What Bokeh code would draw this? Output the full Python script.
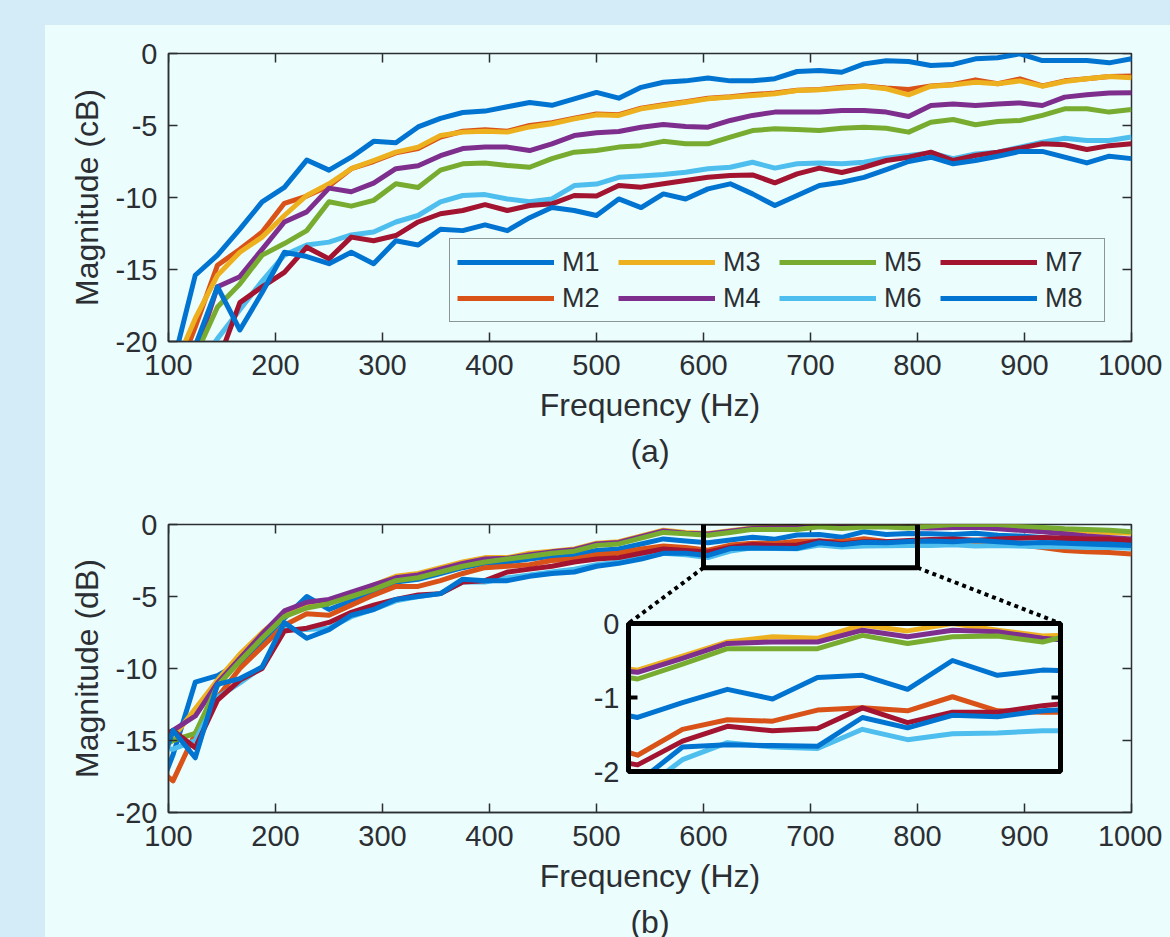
from bokeh.plotting import figure
from bokeh.layouts import column
from bokeh.models import Range1d, Legend, LegendItem, FixedTicker, Title
from bokeh.embed import file_html
from bokeh.resources import INLINE
from bokeh.core.properties import value

# ---------------- data ----------------
FREQ = [83.3, 104.2, 125.0, 145.8, 166.7, 187.5, 208.3, 229.2, 250.0, 270.8,
        291.7, 312.5, 333.3, 354.2, 375.0, 395.8, 416.7, 437.5, 458.3, 479.2,
        500.0, 520.8, 541.7, 562.5, 583.3, 604.2, 625.0, 645.8, 666.7, 687.5,
        708.3, 729.2, 750.0, 770.8, 791.7, 812.5, 833.3, 854.2, 875.0, 895.8,
        916.7, 937.5, 958.3, 979.2, 1000.0]
X_TICKS = [100, 200, 300, 400, 500, 600, 700, 800, 900, 1000]
Y_TICKS = [-20, -15, -10, -5, 0]
Y_TICK_LABELS = ["-20", "-15", "-10", "-5", "0"]
INSET_TICKS = [0, -1, -2]
INSET_TICK_LABELS = ["0", "-1", "-2"]
NAMES = ["M1", "M2", "M3", "M4", "M5", "M6", "M7", "M8"]

# panel (a): values at FREQ[1:]
A_M1 = [-21.6, -15.4, -14.0, -12.2, -10.3, -9.3, -7.4, -8.1, -7.2, -6.1,
        -6.2, -5.1, -4.5, -4.1, -4.0, -3.7, -3.4, -3.6, -3.15, -2.7,
        -3.1, -2.35, -2.0, -1.9, -1.7, -1.9, -1.9, -1.75, -1.25, -1.18,
        -1.3, -0.72, -0.5, -0.56, -0.83, -0.76, -0.37, -0.3, -0.02, -0.49,
        -0.49, -0.49, -0.65, -0.37]
A_M2 = [-23.0, -19.0, -14.7, -13.6, -12.4, -10.4, -9.9, -9.2, -8.0, -7.5,
        -6.9, -6.6, -5.8, -5.4, -5.3, -5.4, -5.0, -4.8, -4.5, -4.2,
        -4.25, -3.8, -3.55, -3.35, -3.1, -3.0, -2.85, -2.75, -2.55, -2.5,
        -2.35, -2.25, -2.4, -2.5, -2.25, -2.15, -1.83, -2.1, -1.76, -2.25,
        -1.9, -1.75, -1.6, -1.57]
A_M3 = [-22.0, -18.4, -15.4, -13.8, -12.75, -11.25, -9.86, -9.05, -8.0, -7.43,
        -6.85, -6.5, -5.7, -5.46, -5.4, -5.46, -5.1, -4.88, -4.54, -4.26,
        -4.3, -3.84, -3.61, -3.38, -3.15, -3.03, -2.92, -2.8, -2.57, -2.52,
        -2.4, -2.27, -2.45, -2.87, -2.27, -2.18, -1.99, -2.1, -1.9, -2.27,
        -1.94, -1.76, -1.6, -1.69]
A_M4 = [-24.0, -21.0, -16.2, -15.5, -13.6, -11.7, -11.0, -9.35, -9.6, -9.0,
        -8.0, -7.8, -7.1, -6.6, -6.5, -6.5, -6.74, -6.27, -5.7, -5.5,
        -5.42, -5.12, -4.93, -5.07, -5.12, -4.65, -4.3, -4.07, -4.07, -4.07,
        -3.96, -3.96, -4.07, -4.38, -3.61, -3.5, -3.61, -3.5, -3.43, -3.61,
        -3.03, -2.87, -2.75, -2.73]
A_M5 = [-25.0, -21.0, -17.6, -16.0, -14.0, -13.2, -12.3, -10.3, -10.6, -10.2,
        -9.05, -9.3, -8.1, -7.66, -7.6, -7.78, -7.9, -7.3, -6.85, -6.74,
        -6.5, -6.4, -6.1, -6.27, -6.27, -5.8, -5.35, -5.23, -5.28, -5.35,
        -5.19, -5.12, -5.19, -5.46, -4.77, -4.58, -4.95, -4.72, -4.65, -4.3,
        -3.84, -3.84, -4.07, -3.89]
A_M6 = [-25.0, -22.0, -19.8, -17.8, -15.8, -14.0, -13.3, -13.1, -12.6, -12.4,
        -11.7, -11.25, -10.3, -9.86, -9.8, -10.1, -10.3, -10.1, -9.17, -9.07,
        -8.6, -8.5, -8.4, -8.24, -8.0, -7.9, -7.55, -7.96, -7.66, -7.6,
        -7.66, -7.55, -7.27, -7.08, -6.9, -7.3, -6.97, -6.85, -6.5, -6.16,
        -5.88, -6.04, -6.04, -5.8]
A_M7 = [-24.0, -23.0, -21.5, -17.3, -16.2, -15.2, -13.45, -14.26, -12.75, -13.0,
        -12.64, -11.7, -11.13, -10.9, -10.5, -10.9, -10.56, -10.44, -9.86, -9.9,
        -9.17, -9.28, -9.05, -8.82, -8.59, -8.47, -8.43, -8.98, -8.36, -7.96,
        -8.26, -7.9, -7.43, -7.2, -6.85, -7.43, -7.08, -6.85, -6.57, -6.27,
        -6.34, -6.67, -6.4, -6.27]
A_M8 = [-24.0, -20.3, -16.2, -19.2, -16.6, -13.8, -14.1, -14.6, -13.8, -14.6,
        -13.0, -13.3, -12.2, -12.3, -11.9, -12.3, -11.4, -10.7, -10.9, -11.25,
        -10.1, -10.7, -9.75, -10.1, -9.4, -9.05, -9.75, -10.56, -9.86, -9.17,
        -8.94, -8.6, -8.06, -7.5, -7.2, -7.66, -7.43, -7.13, -6.8, -6.8,
        -7.2, -7.6, -7.13, -7.3]

# panel (b): values at FREQ
B_M1 = [-20.0, -16.0, -10.95, -10.5, -9.6, -8.1, -6.5, -5.0, -5.9, -5.3,
        -4.6, -4.0, -3.8, -3.4, -3.0, -2.7, -2.6, -2.4, -2.2, -2.1,
        -1.8, -1.7, -1.35, -1.0, -1.15, -1.27, -1.07, -0.89, -1.02, -0.73,
        -0.7, -0.89, -0.5, -0.7, -0.63, -0.65, -0.7, -0.6, -0.75, -0.8,
        -0.9, -1.0, -1.1, -1.2, -1.3]
B_M2 = [-16.5, -17.8, -14.5, -12.0, -10.0, -8.5, -7.0, -6.2, -6.3, -5.6,
        -4.9, -4.3, -4.3, -3.9, -3.4, -3.0, -2.9, -2.8, -2.5, -2.4,
        -2.1, -2.0, -1.7, -1.5, -1.6, -1.78, -1.43, -1.3, -1.32, -1.17,
        -1.14, -1.18, -0.99, -1.18, -1.2, -1.2, -1.3, -1.3, -1.4, -1.4,
        -1.6, -1.8, -1.9, -1.95, -2.05]
B_M3 = [-16.5, -14.8, -12.8, -10.8, -9.0, -7.5, -6.2, -5.6, -5.3, -4.8,
        -4.2, -3.6, -3.4, -3.0, -2.6, -2.3, -2.3, -2.0, -1.85, -1.7,
        -1.3, -1.2, -0.8, -0.4, -0.55, -0.63, -0.44, -0.25, -0.18, -0.2,
        -0.02, -0.1, 0.0, -0.09, -0.17, -0.15, -0.1, -0.05, -0.1, -0.15,
        -0.3, -0.4, -0.5, -0.55, -0.6]
B_M4 = [-16.0, -14.3, -13.3, -11.0, -9.3, -7.6, -6.0, -5.4, -5.2, -4.7,
        -4.2, -3.7, -3.5, -3.1, -2.7, -2.4, -2.35, -2.1, -1.9, -1.75,
        -1.35, -1.25, -0.85, -0.45, -0.6, -0.66, -0.47, -0.27, -0.25, -0.25,
        -0.09, -0.18, -0.09, -0.11, -0.2, -0.25, -0.2, -0.2, -0.3, -0.4,
        -0.5, -0.65, -0.8, -0.9, -1.0]
B_M5 = [-16.0, -15.0, -14.5, -11.2, -9.5, -7.9, -6.4, -5.8, -5.5, -5.0,
        -4.5, -3.9, -3.7, -3.3, -2.9, -2.6, -2.4, -2.2, -2.0, -1.85,
        -1.45, -1.35, -0.95, -0.55, -0.65, -0.75, -0.55, -0.34, -0.34, -0.34,
        -0.16, -0.27, -0.18, -0.17, -0.25, -0.1, 0.0, 0.0, 0.0, -0.1,
        -0.2, -0.3, -0.35, -0.4, -0.5]
B_M6 = [-15.5, -15.6, -15.0, -12.0, -11.0, -9.9, -7.3, -7.3, -7.2, -6.4,
        -5.9, -5.3, -5.0, -4.8, -4.0, -4.0, -3.7, -3.5, -3.3, -3.1,
        -2.8, -2.6, -2.3, -2.0, -2.1, -2.3, -1.84, -1.61, -1.67, -1.69,
        -1.43, -1.57, -1.49, -1.48, -1.45, -1.45, -1.4, -1.5, -1.45, -1.5,
        -1.55, -1.55, -1.6, -1.6, -1.65]
B_M7 = [-15.0, -14.3, -15.5, -12.2, -10.8, -10.0, -7.4, -7.2, -6.8, -6.1,
        -5.6, -5.2, -4.9, -4.8, -4.0, -3.9, -3.3, -3.1, -2.9, -2.6,
        -2.4, -2.3, -2.0, -1.7, -1.8, -1.91, -1.59, -1.39, -1.45, -1.42,
        -1.14, -1.34, -1.2, -1.2, -1.11, -1.05, -1.0, -1.1, -1.0, -0.95,
        -0.9, -0.95, -1.0, -1.0, -1.1]
B_M8 = [-19.0, -14.3, -16.2, -11.1, -10.7, -9.9, -6.8, -7.9, -7.3, -6.3,
        -5.9, -5.2, -5.0, -4.8, -3.8, -3.9, -3.9, -3.6, -3.4, -3.3,
        -2.9, -2.7, -2.4, -2.0, -2.0, -2.15, -1.67, -1.64, -1.65, -1.66,
        -1.27, -1.41, -1.24, -1.26, -1.18, -1.15, -1.2, -1.1, -1.2, -1.3,
        -1.25, -1.3, -1.35, -1.4, -1.45]

A_SERIES = [A_M1, A_M2, A_M3, A_M4, A_M5, A_M6, A_M7, A_M8]
B_SERIES = [B_M1, B_M2, B_M3, B_M4, B_M5, B_M6, B_M7, B_M8]

# ---------------- style ----------------
COLORS = ["#0074D0", "#D95319", "#EDB120", "#7E2F8E", "#77AC30", "#4DBEEE", "#A2142F", "#0074D0"]
FONT = "Liberation Sans"
BG = "#ECFDFD"
STRIP = "#D4ECF7"
AX = "#2B2F33"
LW = 5
FRAME_W, FRAME_H = 963, 288
TICK_PX = 9
ZOOM_X = (600, 800)          # zoomed x-window of the inset
ZOOM_Y = (-2, 0)             # inset y-window
ZOOM_RECT_Y = (-3.0, 0.1)    # drawn zoom rectangle in panel (b)


def style_axis(ax, standoff_lbl, standoff_axis):
    ax.axis_line_color = AX
    ax.axis_line_width = 1.5
    ax.major_tick_line_color = AX
    ax.major_tick_line_width = 1.5
    ax.major_tick_in = TICK_PX
    ax.major_tick_out = 0
    ax.minor_tick_line_color = None
    ax.major_label_text_font = FONT
    ax.major_label_text_font_size = "29px"
    ax.major_label_text_color = AX
    ax.major_label_standoff = standoff_lbl
    ax.axis_label_text_font = FONT
    ax.axis_label_text_font_size = "32px"
    ax.axis_label_text_font_style = "normal"
    ax.axis_label_text_color = AX
    ax.axis_label_standoff = standoff_axis


def make_fig(ylabel, top, bottom, tag):
    p = figure(frame_width=FRAME_W, frame_height=FRAME_H,
               x_range=Range1d(100, 1000), y_range=Range1d(-20, 0),
               output_backend="svg", toolbar_location=None,
               min_border_left=123, min_border_right=31,
               min_border_top=top, min_border_bottom=bottom,
               background_fill_color=BG, border_fill_color=BG,
               outline_line_color=AX, outline_line_width=1.5)
    p.xgrid.visible = False
    p.ygrid.visible = False
    p.xaxis.ticker = FixedTicker(ticks=X_TICKS)
    p.yaxis.ticker = FixedTicker(ticks=Y_TICKS)
    p.yaxis.major_label_overrides = {float(t): s for t, s in zip(Y_TICKS, Y_TICK_LABELS)}
    p.xaxis.axis_label = "Frequency (Hz)"
    p.yaxis.axis_label = ylabel
    style_axis(p.xaxis[0], 13, 9)
    style_axis(p.yaxis[0], 11, 8)
    # inward ticks on the top and right edges of the box
    dy = TICK_PX * 20 / FRAME_H
    dx = TICK_PX * 900 / FRAME_W
    p.segment(x0=X_TICKS, y0=[0] * len(X_TICKS), x1=X_TICKS, y1=[-dy] * len(X_TICKS),
              line_color=AX, line_width=1.5)
    p.segment(x0=[1000] * len(Y_TICKS), y0=Y_TICKS, x1=[1000 - dx] * len(Y_TICKS), y1=Y_TICKS,
              line_color=AX, line_width=1.5)
    p.add_layout(Title(text=tag, align="center", text_font=FONT, text_font_size="32px",
                       text_font_style="normal", text_color=AX, standoff=10), "below")
    return p


# ---------------- panel (a) ----------------
p1 = make_fig("Magnitude (cB)", 28, 139, "(a)")
p1.margin = (25, 0, 0, 45)
freq_a = FREQ[1:]
rs = []
for ys, c in zip(A_SERIES, COLORS):
    rs.append(p1.line(freq_a, ys, line_color=c, line_width=LW, line_join="round"))

order = [0, 2, 4, 6, 1, 3, 5, 7]
legend = Legend(items=[LegendItem(label=NAMES[i], renderers=[rs[i]]) for i in order],
                location=(281, 19), orientation="horizontal", ncols=4,
                border_line_color=AX, border_line_width=1.5,
                background_fill_color=BG, background_fill_alpha=1.0,
                label_text_font=FONT, label_text_font_size="27px", label_text_color=AX,
                glyph_width=97, glyph_height=20, label_standoff=8,
                label_width=52, label_height=32, spacing=4, padding=7, margin=0)
p1.add_layout(legend)

# ---------------- panel (b) ----------------
p2 = make_fig("Magnitude (dB)", 44, 117, "(b)")
p2.margin = (0, 0, 0, 45)
for ys, c in zip(B_SERIES, COLORS):
    p2.line(FREQ, ys, line_color=c, line_width=LW, line_join="round")

# inset placement (frame-relative pixels)
IN_L, IN_R, IN_T, IN_B = 628 - 168, 1060 - 168, 623 - 524, 771 - 524
sx = (ZOOM_X[1] - ZOOM_X[0]) / (IN_R - IN_L)
sy = (ZOOM_Y[1] - ZOOM_Y[0]) / (IN_B - IN_T)
ix0, ix1 = ZOOM_X[0] - IN_L * sx, ZOOM_X[1] + (FRAME_W - IN_R) * sx
iy1, iy0 = ZOOM_Y[1] + IN_T * sy, ZOOM_Y[0] - (FRAME_H - IN_B) * sy
p2.extra_x_ranges = {"ix": Range1d(ix0, ix1)}
p2.extra_y_ranges = {"iy": Range1d(iy0, iy1)}


def to_main_x(v):
    return 100 + (v - ix0) / (ix1 - ix0) * 900


def to_main_y(v):
    return -20 + (v - iy0) / (iy1 - iy0) * 20


IN = dict(x_range_name="ix", y_range_name="iy")

# zoom rectangle in the main axes
p2.quad(left=[ZOOM_X[0]], right=[ZOOM_X[1]], bottom=[ZOOM_RECT_Y[0]], top=[ZOOM_RECT_Y[1]],
        fill_alpha=0, line_color="black", line_width=5)

# inset background + lines
p2.quad(left=[ZOOM_X[0]], right=[ZOOM_X[1]], bottom=[ZOOM_Y[0]], top=[ZOOM_Y[1]],
        fill_color=BG, line_color=None, **IN)
first = max(i for i, f in enumerate(FREQ) if f < ZOOM_X[0])
last = min(i for i, f in enumerate(FREQ) if f > ZOOM_X[1])
for ys, c in zip(B_SERIES, COLORS):
    p2.line(FREQ[first:last + 1], ys[first:last + 1], line_color=c, line_width=LW,
            line_join="round", **IN)
# clip the inset lines to its box
pad_x, pad_y = 42 * sx, 30 * sy
p2.quad(left=[ZOOM_X[0] - pad_x, ZOOM_X[1], ZOOM_X[0] - pad_x],
        right=[ZOOM_X[0], ZOOM_X[1] + pad_x, ZOOM_X[1] + pad_x],
        bottom=[ZOOM_Y[0] - pad_y, ZOOM_Y[0] - pad_y, ZOOM_Y[0] - pad_y],
        top=[ZOOM_Y[1], ZOOM_Y[1], ZOOM_Y[0]],
        fill_color=BG, line_color=None, **IN)
p2.quad(left=[ZOOM_X[0]], right=[ZOOM_X[1]], bottom=[ZOOM_Y[0]], top=[ZOOM_Y[1]],
        fill_alpha=0, line_color="black", line_width=5, **IN)
# inset ticks at -1
tick_len = TICK_PX * sx
p2.segment(x0=[ZOOM_X[0], ZOOM_X[1]], y0=[-1, -1], x1=[ZOOM_X[0] + tick_len, ZOOM_X[1] - tick_len],
           y1=[-1, -1], line_color="black", line_width=4, **IN)
p2.text(x=[ZOOM_X[0]] * 3, y=INSET_TICKS, text=INSET_TICK_LABELS, x_offset=-9,
        text_align="right", text_baseline="middle",
        text_font=value(FONT), text_font_size="29px", text_color=AX, **IN)
# dotted connectors
p2.segment(x0=[ZOOM_X[0], ZOOM_X[1]], y0=[ZOOM_RECT_Y[0]] * 2,
           x1=[to_main_x(ZOOM_X[0]), to_main_x(ZOOM_X[1])], y1=[to_main_y(ZOOM_Y[1])] * 2,
           line_color="black", line_width=4, line_dash="4 4")

layout = column(p1, p2)
html = file_html(layout, INLINE, title="Magnitude responses")
css = ("<style>html{background:linear-gradient(%s,%s) top left/100%% 25px no-repeat,"
       "linear-gradient(to right,%s 45px,%s 45px);overflow:hidden;}"
       "body{overflow:hidden;}</style>" % (STRIP, STRIP, STRIP, BG))
html = html.replace("</head>", css + "</head>", 1)
open("out.html", "w").write(html)
